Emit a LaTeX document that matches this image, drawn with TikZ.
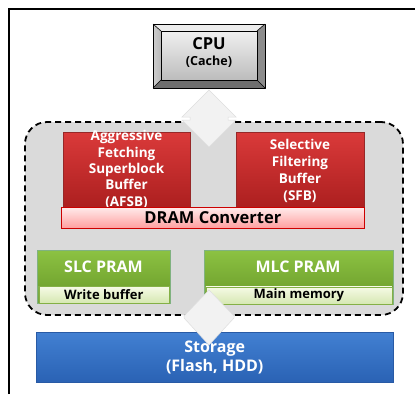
\documentclass[tikz,border=0pt]{standalone}
\usepackage{fontspec}
\setmainfont{Open Sans}
\begin{document}
\begin{tikzpicture}[x=1pt,y=-1pt,
  font=\bfseries,
  box/.style={inner sep=0pt, align=center},
  redbox/.style={box, draw={rgb,255:red,150;green,40;blue,40}, line width=0.4pt,
    top color={rgb,255:red,218;green,58;blue,58}, bottom color={rgb,255:red,170;green,30;blue,30}},
  redtext/.style={text=white, align=center, inner sep=0pt},
  convbox/.style={box, draw=red!80!black, line width=0.8pt,
    top color=red!8, bottom color=red!38, text=black,
    font=\bfseries\fontsize{16.5}{18}\selectfont},
  greenbox/.style={box, draw=green!40!black!50, line width=0.4pt,
    top color={rgb,255:red,140;green,194;blue,66}, bottom color={rgb,255:red,104;green,152;blue,40}},
  greentext/.style={text=white, inner sep=0pt, font=\bfseries\fontsize{16}{18}\selectfont},
  subbox/.style={box, draw={rgb,255:red,132;green,176;blue,70}, line width=0.7pt,
    top color={rgb,255:red,246;green,250;blue,230}, bottom color={rgb,255:red,214;green,232;blue,178},
    text=black, font=\bfseries\fontsize{13}{14}\selectfont},
  bluebox/.style={box, draw={rgb,255:red,40;green,90;blue,165}, line width=0.4pt,
    top color={rgb,255:red,66;green,128;blue,210}, bottom color={rgb,255:red,42;green,98;blue,180},
    text=white, font=\bfseries\fontsize{16}{19}\selectfont},
  bevel/.style={draw=black, line width=0.6pt, line join=round},
  linkarrow/.style={fill={rgb,255:red,242;green,242;blue,242}, draw={rgb,255:red,222;green,222;blue,222}, line width=0.5pt}
]
\useasboundingbox (0,0) rectangle (415,394);
\fill[white] (0,0) rectangle (415,394);

% window frame
\draw[line width=2.2pt] (9,394) -- (9,9) -- (415,9);

% CPU block with bevelled edges
\fill[fill={rgb,255:red,236;green,236;blue,236}] (153,24) -- (265,24) -- (257,31) -- (161,31) -- cycle;
\shade[left color={rgb,255:red,205;green,205;blue,205}, right color={rgb,255:red,185;green,185;blue,185}] (153,24) -- (161,31) -- (161,80) -- (153,88) -- cycle;
\fill[fill={rgb,255:red,140;green,140;blue,140}] (265,24) -- (265,88) -- (257,80) -- (257,31) -- cycle;
\fill[fill={rgb,255:red,110;green,110;blue,110}] (153,88) -- (265,88) -- (257,80) -- (161,80) -- cycle;
\shade[top color={rgb,255:red,240;green,240;blue,240}, bottom color={rgb,255:red,188;green,188;blue,188}] (161,31) rectangle (257,80);
\draw[bevel] (153,24) rectangle (265,88);
\draw[bevel] (161,31) rectangle (257,80);
\draw[bevel] (153,24) -- (161,31) (265,24) -- (257,31) (265,88) -- (257,80) (153,88) -- (161,80);
\node[box, font=\bfseries\fontsize{16.5}{17}\selectfont] (cpu) at (209,53)
  {CPU\\[-1pt]{\fontsize{12.5}{13}\selectfont(Cache)}};

% dashed memory module
\node[box, draw=black, dashed, dash pattern=on 6pt off 4pt, line width=1.8pt,
  fill={rgb,255:red,218;green,218;blue,218}, rounded corners=22pt,
  minimum width=378pt, minimum height=193pt] (mem) at (214,218.5) {};

% DRAM buffers
\node[redbox, minimum width=127pt, minimum height=78pt, anchor=north west] (afsb) at (63,132) {};
\node[redtext, font=\bfseries\fontsize{13.5}{16.3}\selectfont] (afsbtxt) at (126.5,169.5)
  {Aggressive\\Fetching\\Superblock\\Buffer\\(AFSB)};
\node[redbox, minimum width=128pt, minimum height=78pt, anchor=north west] (sfb) at (236,132) {};
\node[redtext, font=\bfseries\fontsize{13.5}{17}\selectfont] (sfbtxt) at (300,170.5)
  {Selective\\Filtering\\Buffer\\(SFB)};
\node[convbox, minimum width=303pt, minimum height=21pt, anchor=north west] (conv) at (61,207) {DRAM Converter};

% PRAM parts
\node[greenbox, minimum width=133pt, minimum height=53pt, anchor=north west] (slc) at (37,250) {};
\node[greentext] (slctxt) at (103.5,267) {SLC PRAM};
\node[subbox, minimum width=130pt, minimum height=16.5pt, anchor=north west] (wbuf) at (38.5,286) {Write buffer};
\node[greenbox, minimum width=189pt, minimum height=54pt, anchor=north west] (mlc) at (204,250) {};
\node[greentext] (mlctxt) at (298,267) {MLC PRAM};
\node[subbox, minimum width=186pt, minimum height=17pt, anchor=north west] (mmem) at (205.5,286.5) {Main memory};

% storage
\node[bluebox, minimum width=357pt, minimum height=50pt, anchor=north west] (stor) at (36,332)
  {Storage\\(Flash, HDD)};

% links between the levels
\coordinate (uplink) at (209,118.5);
\coordinate (downlink) at (209,317);
\path[linkarrow, shift={(uplink)}]
  (0,-28.5) -- (27,-1.5) -- (19,-1.5) -- (19,1.5) -- (27,1.5) -- (0,28.5)
  -- (-27,1.5) -- (-19,1.5) -- (-19,-1.5) -- (-27,-1.5) -- cycle;
\path[linkarrow, shift={(downlink)}]
  (0,-27) -- (25,-1) -- (25,1) -- (0,28) -- (-25,1) -- (-25,-1) -- cycle;
\end{tikzpicture}
\end{document}
